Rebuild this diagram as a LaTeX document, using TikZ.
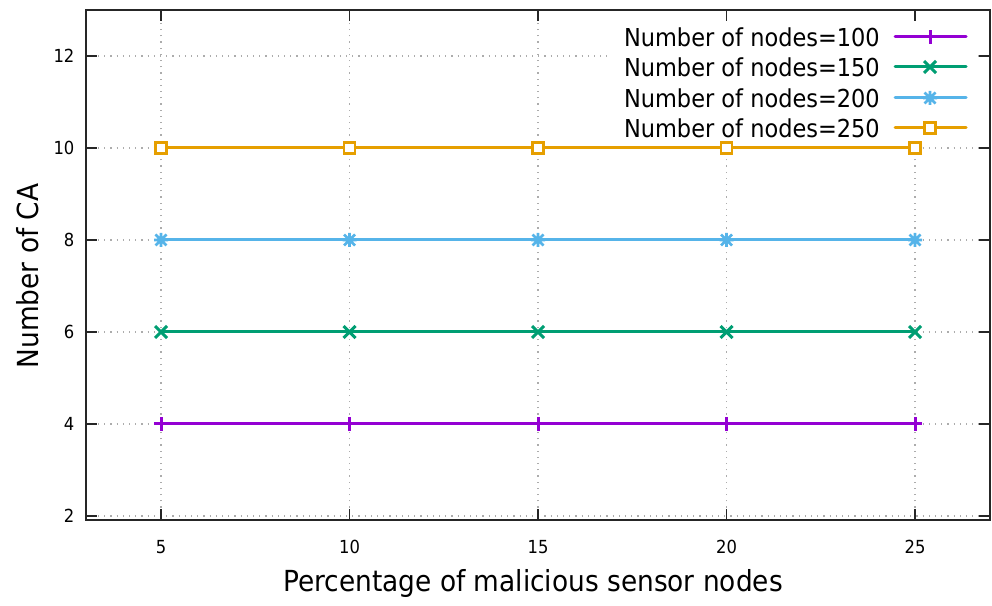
\documentclass[tikz,border=0pt]{standalone}
\usepackage{fontspec}
\setmainfont{DejaVu Sans}[FakeStretch=0.91]
\usetikzlibrary{positioning}
\definecolor{gpPurple}{HTML}{9400D3}
\definecolor{gpGreen}{HTML}{009E73}
\definecolor{gpBlue}{HTML}{56B4E9}
\definecolor{gpOrange}{HTML}{E69F00}
\tikzset{
x=1pt, y=1pt, % one unit is one pixel of the plot
gridline/.style={draw=gray!65, line width=1.2pt, dash pattern=on 1.2pt off 5pt},
frame/.style={draw=black!85, line width=2pt},
tickmark/.style={draw=black!85, line width=1.8pt},
series/.style={line width=3pt, line cap=round},
ticklabel/.style={font=\fontsize{18}{18}\selectfont, inner sep=0pt},
keytext/.style={font=\fontsize{24.7}{26}\selectfont, inner sep=0pt, anchor=east},
axislabel/.style={font=\fontsize{29}{30}\selectfont, inner sep=0pt},
mkplus/.pic={\draw[line width=3pt] (-7pt,0) -- (7pt,0) (0,-7pt) -- (0,7pt);},
mkcross/.pic={\draw[line width=3pt] (-6pt,-6pt) -- (6pt,6pt) (-6pt,6pt) -- (6pt,-6pt);},
mkstar/.pic={\draw[line width=2.6pt] (-7pt,0) -- (7pt,0) (0,-7pt) -- (0,7pt)
  (-5.5pt,-5.5pt) -- (5.5pt,5.5pt) (-5.5pt,5.5pt) -- (5.5pt,-5.5pt);},
mkbox/.pic={\draw[line width=2.6pt, fill=white] (-5.5pt,-5.5pt) rectangle (5.5pt,5.5pt);},
}

\begin{document}
\begin{tikzpicture}
\useasboundingbox (0,0) rectangle (992,605);
% data area: x from 3 to 27, y from 1.913 to 13
\begin{scope}[xshift=-27.5pt, yshift=-3pt, x=37.7pt, y=46pt]
\foreach \x in {5,10,...,25} \draw[gridline] (\x,1.913) -- (\x,13);
\foreach \y in {2,4,...,12} \draw[gridline] (3,\y) -- (27,\y);
\fill[white] (16.83,12.74) rectangle (26.62,10.11); % opaque key
\draw[series, gpPurple] (5,4) -- (25,4);
\draw[series, gpGreen] (5,6) -- (25,6);
\draw[series, gpBlue] (5,8) -- (25,8);
\draw[series, gpOrange] (5,10) -- (25,10);
\foreach \x in {5,10,...,25} {
  \pic[gpPurple] at (\x,4) {mkplus};
  \pic[gpGreen] at (\x,6) {mkcross};
  \pic[gpBlue] at (\x,8) {mkstar};
  \pic[gpOrange] at (\x,10) {mkbox};
}
\foreach \x in {5,10,...,25} {
  \draw[tickmark] (\x,1.913) -- ++(0,11pt);
  \draw[tickmark] (\x,13) -- ++(0,-11pt);
  \node[ticklabel, anchor=base] (xt\x) at ([yshift=-33pt]\x,1.913) {\x};
}
\foreach \y in {2,4,...,12} {
  \draw[tickmark] (3,\y) -- ++(11pt,0);
  \draw[tickmark] (27,\y) -- ++(-11pt,0);
  \node[ticklabel, anchor=east] (yt\y) at ([xshift=-11pt]3,\y) {\y};
}
\draw[frame] (3,1.913) rectangle (27,13);
\end{scope}
% key
\node[keytext] (leg1) at (880,568) {Number of nodes=100};
\node[keytext] (leg2) at (880,538) {Number of nodes=150};
\node[keytext] (leg3) at (880,507) {Number of nodes=200};
\node[keytext] (leg4) at (880,477) {Number of nodes=250};
\draw[series, gpPurple] ([xshift=15pt]leg1.east) -- ([xshift=86pt]leg1.east);
\draw[series, gpGreen] ([xshift=15pt]leg2.east) -- ([xshift=86pt]leg2.east);
\draw[series, gpBlue] ([xshift=15pt]leg3.east) -- ([xshift=86pt]leg3.east);
\draw[series, gpOrange] ([xshift=15pt]leg4.east) -- ([xshift=86pt]leg4.east);
\pic[gpPurple] at ([xshift=50pt]leg1.east) {mkplus};
\pic[gpGreen] at ([xshift=50pt]leg2.east) {mkcross};
\pic[gpBlue] at ([xshift=50pt]leg3.east) {mkstar};
\pic[gpOrange] at ([xshift=50pt]leg4.east) {mkbox};
% axis labels
\node[axislabel, anchor=base] (xlab) at (533,14) {Percentage of malicious sensor nodes};
\node[axislabel, anchor=base, rotate=90] (ylab) at (38.5,329) {Number of CA};
\end{tikzpicture}
\end{document}
